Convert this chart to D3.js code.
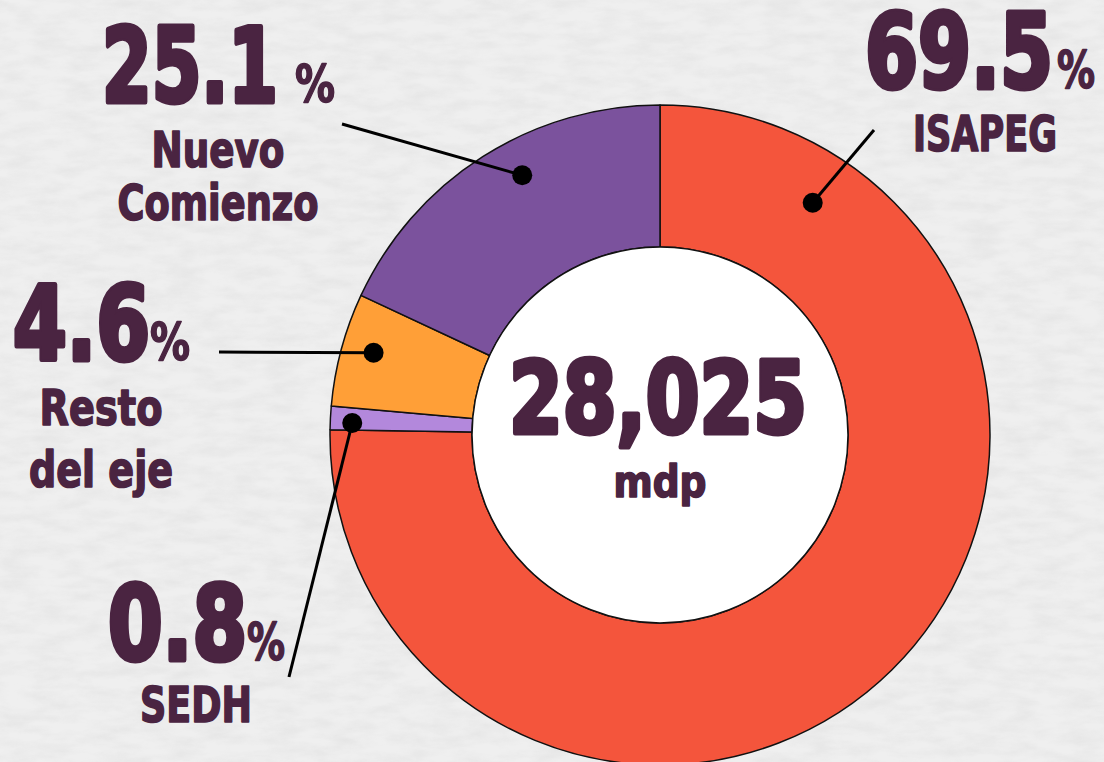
<!DOCTYPE html>
<html>
<head>
<meta charset="utf-8">
<script src="https://cdn.jsdelivr.net/npm/d3@7"></script>
<style>
  html, body { margin: 0; padding: 0; background: #ededed; }
  svg { display: block; }
  text {
    font-family: "Liberation Sans Narrow", "DejaVu Sans Condensed", "Roboto", sans-serif;
    font-weight: bold; fill: #4a2441;
    stroke: #4a2441; stroke-linejoin: round; paint-order: stroke;
  }
</style>
</head>
<body>
<svg id="chart"></svg>
<script>
// Datos del gráfico
const categories = ["ISAPEG", "SEDH", "Resto del eje", "Nuevo Comienzo"];
const shareLabels = ["69.5", "0.8", "4.6", "25.1"];
// tamaño de cada rebanada tal como está dibujada
const arcShares = [75.25, 1.15, 5.55, 18.05];
const sliceColors = ["#f4553c", "#b388dc", "#ff9f37", "#7b529d"];
const totalLabel = "28,025";
const unitLabel = "mdp";

const width = 1104, height = 762;
const cx = 660, cy = 435;
const outerR = 330, innerR = 188;

// posiciones de etiquetas y líneas guía (en el mismo orden que categories)
const layout = [
  { t: 0.123, r: 278, end: [874, 130], numX: 865, numY: 88, numW: 188, pctX: 1057, pctW: 38,
    lines: ["ISAPEG"], lineX: 985, lineY: [151], lineW: [144] },
  { t: 0.32, r: 308, end: [289, 677], numX: 108, numY: 660, numW: 139, pctX: 247, pctW: 38,
    lines: ["SEDH"], lineX: 196, lineY: [722], lineW: [112] },
  { t: 0.55, r: 298, end: [219, 352], numX: 13, numY: 360, numW: 137, pctX: 150, pctW: 40,
    lines: ["Resto", "del eje"], lineX: 101, lineY: [425, 487], lineW: [123, 144] },
  { t: 0.57, r: 294, end: [342, 124], numX: 102, numY: 102, numW: 176, pctX: 295, pctW: 40,
    lines: ["Nuevo", "Comienzo"], lineX: 218, lineY: [167, 220], lineW: [133, 201] }
];

const svg = d3.select("#chart")
  .attr("width", width)
  .attr("height", height);

// fondo tipo papel
const defs = svg.append("defs");
const paper = defs.append("filter").attr("id", "paper")
  .attr("x", 0).attr("y", 0).attr("width", "100%").attr("height", "100%");
paper.append("feTurbulence")
  .attr("type", "fractalNoise")
  .attr("baseFrequency", "0.03 0.09")
  .attr("numOctaves", 4)
  .attr("seed", 7)
  .attr("result", "noise");
paper.append("feColorMatrix")
  .attr("type", "matrix")
  .attr("values", "0 0 0 0 0.5  0 0 0 0 0.5  0 0 0 0 0.5  0 0 0 -1.2 0.8");

svg.append("rect")
  .attr("width", width).attr("height", height)
  .attr("fill", "#efefef");
svg.append("rect")
  .attr("width", width).attr("height", height)
  .attr("filter", "url(#paper)")
  .attr("opacity", 0.25);

const g = svg.append("g").attr("transform", `translate(${cx},${cy})`);

const pie = d3.pie().sort(null).value(d => d)
  .startAngle(0).endAngle(2 * Math.PI);
const arcs = pie(arcShares);

const arc = d3.arc().innerRadius(innerR).outerRadius(outerR);

g.selectAll("path.slice")
  .data(arcs)
  .join("path")
  .attr("class", "slice")
  .attr("d", arc)
  .attr("fill", (d, i) => sliceColors[i])
  .attr("stroke", "#111")
  .attr("stroke-width", 1.5)
  .attr("stroke-linejoin", "round");

g.append("circle")
  .attr("r", innerR)
  .attr("fill", "#fff")
  .attr("stroke", "#111")
  .attr("stroke-width", 1.5);

// líneas guía y puntos
function dotPos(d, i) {
  const L = layout[i];
  const a = d.startAngle + L.t * (d.endAngle - d.startAngle);
  return [cx + L.r * Math.sin(a), cy - L.r * Math.cos(a)];
}

svg.selectAll("line.leader")
  .data(arcs)
  .join("line")
  .attr("class", "leader")
  .attr("x1", (d, i) => dotPos(d, i)[0])
  .attr("y1", (d, i) => dotPos(d, i)[1])
  .attr("x2", (d, i) => layout[i].end[0])
  .attr("y2", (d, i) => layout[i].end[1])
  .attr("stroke", "#000")
  .attr("stroke-width", 3);

svg.selectAll("circle.dot")
  .data(arcs)
  .join("circle")
  .attr("class", "dot")
  .attr("cx", (d, i) => dotPos(d, i)[0])
  .attr("cy", (d, i) => dotPos(d, i)[1])
  .attr("r", 10)
  .attr("fill", "#000");

// etiquetas
const labels = svg.selectAll("g.label")
  .data(categories)
  .join("g")
  .attr("class", "label");

labels.append("text")
  .attr("x", (d, i) => layout[i].numX)
  .attr("y", (d, i) => layout[i].numY)
  .attr("font-size", 104)
  .attr("stroke-width", 5)
  .attr("textLength", (d, i) => layout[i].numW)
  .attr("lengthAdjust", "spacingAndGlyphs")
  .text((d, i) => shareLabels[i]);

labels.append("text")
  .attr("x", (d, i) => layout[i].pctX)
  .attr("y", (d, i) => layout[i].numY)
  .attr("font-size", 52)
  .attr("stroke-width", 1.5)
  .attr("textLength", (d, i) => layout[i].pctW)
  .attr("lengthAdjust", "spacingAndGlyphs")
  .text("%");

labels.each(function(d, i) {
  const L = layout[i];
  L.lines.forEach((line, k) => {
    d3.select(this).append("text")
      .attr("x", L.lineX)
      .attr("y", L.lineY[k])
      .attr("text-anchor", "middle")
      .attr("font-size", 50)
      .attr("stroke-width", 1.6)
      .attr("textLength", L.lineW[k])
      .attr("lengthAdjust", "spacingAndGlyphs")
      .text(line);
  });
});

// total al centro
svg.append("text")
  .attr("x", cx - 2)
  .attr("y", 433)
  .attr("text-anchor", "middle")
  .attr("font-size", 100)
  .attr("stroke-width", 5)
  .attr("textLength", 298)
  .attr("lengthAdjust", "spacingAndGlyphs")
  .text(totalLabel);

svg.append("text")
  .attr("x", cx)
  .attr("y", 497)
  .attr("text-anchor", "middle")
  .attr("font-size", 44)
  .attr("stroke-width", 1.6)
  .attr("textLength", 93)
  .attr("lengthAdjust", "spacingAndGlyphs")
  .text(unitLabel);
</script>
</body>
</html>
